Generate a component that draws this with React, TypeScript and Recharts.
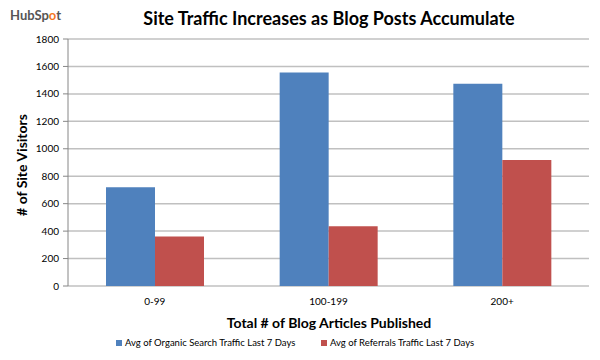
import React from 'react';
import { BarChart, Bar, XAxis, YAxis, CartesianGrid, Legend, Customized } from 'recharts';

const categories = ['0-99', '100-199', '200+'];
const organicSearch = [720, 1556, 1474];
const referrals = [361, 436, 919];
const yTicks = [0, 200, 400, 600, 800, 1000, 1200, 1400, 1600, 1800];
const boundaryTicks = [0, 1, 2, 3];
const seriesNames = ['Avg of Organic Search Traffic Last 7 Days', 'Avg of Referrals Traffic Last 7 Days'];
const seriesColors = ['#4F81BD', '#C0504D'];

const data = categories.map((name, i) => ({ name, organic: organicSearch[i], referrals: referrals[i] }));

const FONT = 'Lato, "Open Sans", sans-serif';

const Titles = () => (
  <g fontFamily={FONT}>
    <text x={10} y={20} fontSize={13} fontWeight={700} fill="#555">
      HubSp<tspan fill="#F57722">o</tspan>t
    </text>
    <text x={329} y={25} textAnchor="middle" fontSize={18} fontWeight={700} fill="#000">
      Site Traffic Increases as Blog Posts Accumulate
    </text>
    <text x={0} y={0} transform="translate(27,165) rotate(-90)" textAnchor="middle" fontSize={14} fontWeight={700} fill="#000">
      # of Site Visitors
    </text>
    <text x={329} y={328} textAnchor="middle" fontSize={14} fontWeight={700} fill="#000">
      Total # of Blog Articles Published
    </text>
  </g>
);

const LegendBox = () => (
  <div style={{ position: 'relative', height: 20, fontFamily: FONT, fontSize: 9.5, color: '#000' }}>
    {seriesNames.map((n, i) => (
      <div key={n} style={{ position: 'absolute', left: i === 0 ? 116 : 321, top: 5, display: 'flex', alignItems: 'center', whiteSpace: 'nowrap' }}>
        <span style={{ width: 6, height: 6, background: seriesColors[i], marginRight: 3, display: 'inline-block' }} />
        {n}
      </div>
    ))}
  </div>
);

export default function App() {
  return (
    <div style={{ position: 'absolute', left: 0, top: 0, width: 600, height: 360, background: '#fff' }}>
      <BarChart width={600} height={360} data={data} margin={{ top: 39, right: 11, bottom: 8, left: 0 }} barGap={0} barSize={49}>
        <CartesianGrid vertical={false} stroke="#C0C0C0" strokeWidth={1.5} />
        <XAxis
          xAxisId="edges"
          type="number"
          domain={[0, 3]}
          ticks={boundaryTicks}
          tick={false}
          tickSize={5}
          height={0}
          axisLine={{ stroke: '#868686' }}
          tickLine={{ stroke: '#868686' }}
        />
        <XAxis
          dataKey="name"
          height={46}
          axisLine={false}
          tickLine={false}
          tickMargin={6}
          tick={{ fontSize: 10, fill: '#000', fontFamily: FONT }}
        />
        <YAxis
          width={68}
          domain={[0, 1800]}
          ticks={yTicks}
          interval={0}
          tickSize={5}
          tickMargin={4}
          axisLine={{ stroke: '#868686' }}
          tickLine={{ stroke: '#868686' }}
          tick={{ fontSize: 10, fill: '#000', fontFamily: FONT }}
        />
        <Legend verticalAlign="bottom" content={() => <LegendBox />} wrapperStyle={{ left: 0, width: 600, height: 20 }} />
        <Bar dataKey="organic" name={seriesNames[0]} fill={seriesColors[0]} isAnimationActive={false} />
        <Bar dataKey="referrals" name={seriesNames[1]} fill={seriesColors[1]} isAnimationActive={false} />
        <Customized component={Titles} />
      </BarChart>
    </div>
  );
}
